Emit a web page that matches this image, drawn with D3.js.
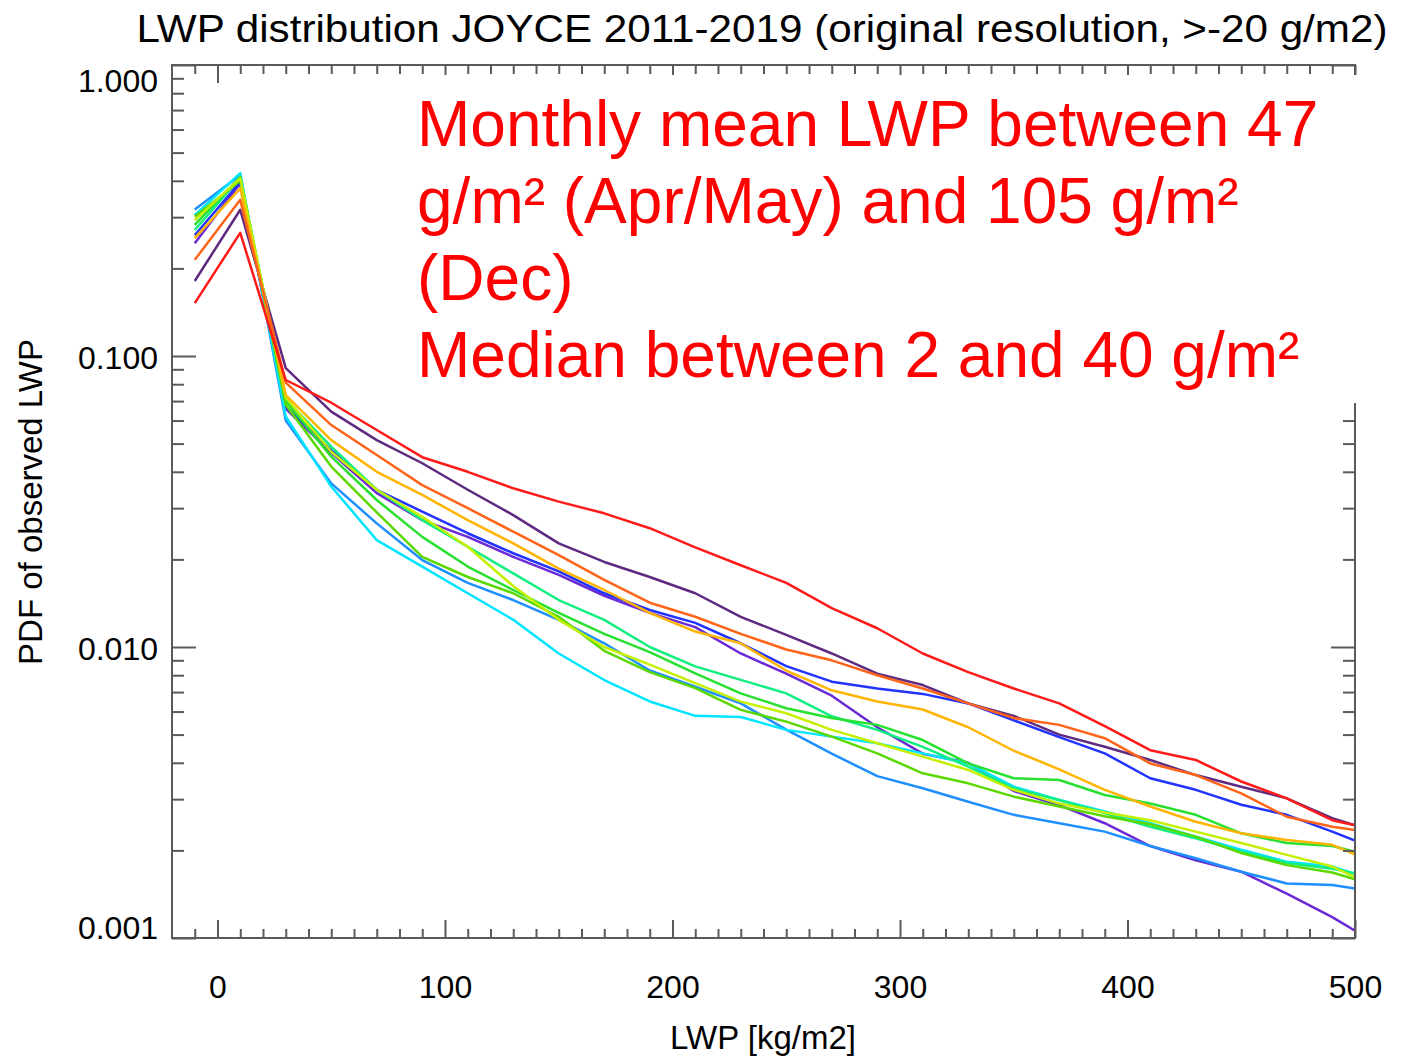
<!DOCTYPE html>
<html><head><meta charset="utf-8">
<script src="https://cdn.jsdelivr.net/npm/d3@7"></script>
<style>
html,body{margin:0;padding:0;background:#fff;}
text{font-family:"Liberation Sans",Arial,Helvetica,sans-serif;}
</style></head>
<body>
<svg id="chart" width="1402" height="1058"></svg>
<script>
// ---- data ----
const lwp = [-10,10,30,50,70,90,110,130,150,170,190,210,230,250,270,290,310,330,350,370,390,410,430,450,470,490,500];
const months = ["Jan","Feb","Mar","Apr","May","Jun","Jul","Aug","Sep","Oct","Nov","Dec"];
const monthColors = ["#5e2a80","#6a2ad6","#2233ff","#1e8fff","#00e5ff","#10ee80","#28e030","#5ad800","#c4f000","#ffb400","#ff6418","#ff1a1a"];
const pdfJan = [0.181,0.318,0.0908,0.0644,0.0514,0.0428,0.0347,0.0284,0.0227,0.0196,0.0174,0.0153,0.0127,0.0110,0.0095,0.0081,0.0074,0.0064,0.0058,0.0050,0.00454,0.00409,0.00363,0.00331,0.00302,0.00258,0.00244];
const pdfFeb = [0.244,0.392,0.066,0.0465,0.0338,0.0273,0.0239,0.0204,0.0177,0.0150,0.0131,0.0117,0.0095,0.0081,0.0068,0.0053,0.0043,0.0040,0.0032,0.00286,0.00248,0.00207,0.00185,0.00169,0.00142,0.00118,0.00106];
const pdfMar = [0.260,0.397,0.067,0.0475,0.0347,0.0292,0.0246,0.0210,0.0182,0.0153,0.0134,0.0121,0.0103,0.0086,0.0076,0.0072,0.0069,0.0064,0.0056,0.0049,0.00431,0.00354,0.00323,0.00287,0.00265,0.00232,0.00216];
const pdfApr = [0.319,0.419,0.060,0.0365,0.0266,0.0199,0.0166,0.0145,0.0124,0.0103,0.0083,0.0073,0.0064,0.0052,0.0043,0.0036,0.00327,0.00294,0.00265,0.00248,0.00232,0.00207,0.00188,0.00169,0.00154,0.00152,0.00148];
const pdfMay = [0.305,0.425,0.062,0.0356,0.0233,0.0189,0.0153,0.0124,0.0095,0.0077,0.0065,0.0058,0.00575,0.00519,0.00492,0.00467,0.00431,0.00398,0.00331,0.00298,0.00272,0.00248,0.00223,0.00201,0.00183,0.00176,0.00166];
const pdfJun = [0.271,0.410,0.071,0.0488,0.0347,0.0273,0.0221,0.0179,0.0145,0.0124,0.0100,0.00858,0.00771,0.00693,0.00578,0.00519,0.00454,0.00388,0.00327,0.00298,0.00269,0.00241,0.00220,0.00198,0.00181,0.00173,0.00167];
const pdfJul = [0.282,0.413,0.070,0.0451,0.0320,0.0239,0.0189,0.0157,0.0131,0.0111,0.0096,0.00812,0.00693,0.00616,0.00570,0.00540,0.00479,0.00398,0.00354,0.00349,0.00310,0.00290,0.00265,0.00229,0.00212,0.00207,0.00198];
const pdfAug = [0.301,0.400,0.068,0.0417,0.0290,0.0204,0.0174,0.0153,0.0127,0.0097,0.0082,0.00722,0.00608,0.00554,0.00492,0.00431,0.00368,0.00340,0.00306,0.00283,0.00262,0.00246,0.00223,0.00196,0.00178,0.00168,0.00159];
const pdfSep = [0.293,0.408,0.072,0.0469,0.0347,0.0280,0.0221,0.0162,0.0124,0.0100,0.0087,0.00751,0.00649,0.00592,0.00519,0.00467,0.00420,0.00378,0.00323,0.00290,0.00270,0.00254,0.00232,0.00212,0.00193,0.00176,0.00162];
const pdfOct = [0.254,0.377,0.0734,0.0514,0.0400,0.0333,0.0273,0.0227,0.0186,0.0157,0.0131,0.0113,0.0103,0.0083,0.0071,0.0065,0.0061,0.0053,0.0044,0.0038,0.00323,0.00283,0.00251,0.00229,0.00217,0.00209,0.00194];
const pdfNov = [0.214,0.344,0.081,0.0579,0.0457,0.0360,0.0300,0.0249,0.0207,0.0170,0.0142,0.0127,0.0111,0.0098,0.0090,0.0080,0.0072,0.0064,0.0057,0.0054,0.00486,0.00398,0.00363,0.00314,0.00261,0.00241,0.00235];
const pdfDec = [0.152,0.265,0.0827,0.0691,0.0557,0.0449,0.0400,0.0351,0.0316,0.0288,0.0256,0.0220,0.0191,0.0166,0.0136,0.0116,0.0095,0.0082,0.0072,0.0064,0.00535,0.00442,0.00409,0.00345,0.00302,0.00254,0.00244];
const seriesValues = [pdfJan,pdfFeb,pdfMar,pdfApr,pdfMay,pdfJun,pdfJul,pdfAug,pdfSep,pdfOct,pdfNov,pdfDec];

const xMajorTicks = [0,100,200,300,400,500];
const xTickLabels = ["0","100","200","300","400","500"];
const yMajorTicks = [0.001,0.01,0.1,1];
const yTickLabels = ["0.001","0.010","0.100","1.000"];
const titleText = "LWP distribution JOYCE 2011-2019 (original resolution, >-20 g/m2)";
const xTitle = "LWP [kg/m2]";
const yTitle = "PDF of observed LWP";
const noteLines = ["Monthly mean LWP between 47","g/m\u00B2 (Apr/May) and 105 g/m\u00B2","(Dec)","Median between 2 and 40 g/m\u00B2"];

// ---- layout ----
const L = 172, R = 1355, T = 65, B = 938;
const svg = d3.select("#chart");
const x = d3.scaleLinear().domain([-20,500]).range([L,R]);
const y = d3.scaleLog().domain([0.001,1]).range([B,T]);

const xMinor = d3.range(-10,501,10).filter(v => xMajorTicks.indexOf(v) < 0);
const yMinor = y.ticks().filter(v => !yMajorTicks.some(m => Math.abs(m - v) < 1e-12));

const axisColor = "#5a5a5a";
function styleAxis(g){
  g.select(".domain").remove();
  g.selectAll(".tick line").attr("stroke", axisColor).attr("stroke-width", 2);
  g.selectAll("text").attr("fill","#000").style("font-size","32px").style("font-family","'Liberation Sans',Arial,sans-serif");
}

// lines (clipped)
svg.append("defs").append("clipPath").attr("id","plotClip")
  .append("rect").attr("x",L).attr("y",T).attr("width",R-L).attr("height",B-T);

const line = d3.line().x((d,i)=>x(lwp[i])).y(d=>y(d));
svg.append("g").attr("clip-path","url(#plotClip)")
  .selectAll("path").data(seriesValues).join("path")
  .attr("d", d=>line(d))
  .attr("fill","none")
  .attr("stroke",(d,i)=>monthColors[i])
  .attr("stroke-width",2.5)
  .attr("stroke-linejoin","round");

// bottom axis
svg.append("g").attr("transform",`translate(0,${B})`)
  .call(d3.axisBottom(x).tickValues(xMinor).tickSize(-9).tickFormat(""))
  .call(styleAxis);
svg.append("g").attr("transform",`translate(0,${B})`)
  .call(d3.axisBottom(x).tickValues(xMajorTicks).tickSize(-18).tickPadding(37).tickFormat((d,i)=>xTickLabels[i]))
  .call(styleAxis);
// top axis
svg.append("g").attr("transform",`translate(0,${T})`)
  .call(d3.axisTop(x).tickValues(xMinor).tickSize(-9).tickFormat(""))
  .call(styleAxis);
svg.append("g").attr("transform",`translate(0,${T})`)
  .call(d3.axisTop(x).tickValues(xMajorTicks).tickSize(-18).tickFormat(""))
  .call(styleAxis);
// left axis
svg.append("g").attr("transform",`translate(${L},0)`)
  .call(d3.axisLeft(y).tickValues(yMinor).tickSize(-12).tickFormat(""))
  .call(styleAxis);
const yAx = svg.append("g").attr("transform",`translate(${L},0)`)
  .call(d3.axisLeft(y).tickValues(yMajorTicks).tickSize(-24).tickPadding(14).tickFormat((d,i)=>yTickLabels[i]))
  .call(styleAxis);
yAx.selectAll(".tick text").attr("dy",(d)=> d===1 ? "0.82em" : d===0.001 ? "0.02em" : "0.4em");
// right axis
svg.append("g").attr("transform",`translate(${R},0)`)
  .call(d3.axisRight(y).tickValues(yMinor).tickSize(-12).tickFormat(""))
  .call(styleAxis);
svg.append("g").attr("transform",`translate(${R},0)`)
  .call(d3.axisRight(y).tickValues(yMajorTicks).tickSize(-24).tickFormat(""))
  .call(styleAxis);
// frame
svg.append("rect").attr("x",L).attr("y",T).attr("width",R-L).attr("height",B-T)
  .attr("fill","none").attr("stroke",axisColor).attr("stroke-width",2);

// titles
svg.append("text").attr("x",762).attr("y",42).attr("text-anchor","middle")
  .attr("textLength",1251).attr("lengthAdjust","spacingAndGlyphs")
  .style("font-size","38px").text(titleText);
svg.append("text").attr("x",763).attr("y",1049).attr("text-anchor","middle")
  .style("font-size","33px").text(xTitle);
svg.append("text").attr("transform","translate(42,502) rotate(-90)").attr("text-anchor","middle")
  .style("font-size","33px").text(yTitle);

// annotation box
svg.append("rect").attr("x",405).attr("y",75).attr("width",1402-405).attr("height",403-75).attr("fill","#fff");
svg.append("g").selectAll("text").data(noteLines).join("text")
  .attr("x",417).attr("y",(d,i)=>146 + i*77)
  .attr("fill","#ff0000").style("font-size","64px").text(d=>d);
</script>
</body></html>
